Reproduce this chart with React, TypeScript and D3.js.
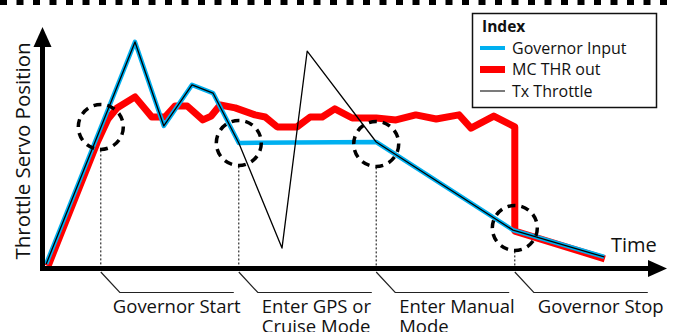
import React from "react";
import * as d3 from "d3";

const W = 676;
const H = 332;

// Time (0..100) vs servo position (0..100)
const txTime = [0.7, 15.5, 20.3, 25, 28.5, 32.8, 40, 44.2, 55.7, 78.5, 93.7];
const txValue = [1.7, 94.2, 59.2, 76.3, 72.9, 52.1, 8.3, 90.4, 52.5, 15.8, 4.6];

const govTime = [0.7, 15.5, 20.3, 25, 28.5, 32.8, 55.7, 78.5, 93.7];
const govValue = [1.7, 94.2, 59.2, 76.3, 72.9, 52.1, 52.5, 15.8, 4.6];

const mcTime = [1, 9.3, 11, 12.5, 15.5, 18.3, 20.5, 22.2, 24.2, 26.8, 28.2, 29.7, 32.2, 35.5, 37.2, 39.2, 42.5, 44.7, 46.7, 48.8, 51.7, 55.7, 59, 62.3, 65.7, 69.5, 71.5, 75.3, 78.8, 78.8, 93.8];
const mcValue = [0.8, 52.9, 62.1, 66.7, 71.3, 62.9, 62.9, 67.5, 67.5, 61.7, 63.3, 67.9, 66.7, 63.8, 62.9, 58.8, 58.8, 62.9, 62.9, 66.3, 62.5, 62.5, 61.7, 63.8, 62.1, 63.8, 58.3, 63.3, 58.8, 15.4, 3.8];

const eventTime = [9.8, 32.8, 55.7, 78.8];
const eventValue = [58.8, 52.1, 51.7, 16.7];
const eventLabels = [["Governor Start"], ["Enter GPS or", "Cruise Mode"], ["Enter Manual", "Mode"], ["Governor Stop"]];
const eventLabelDx = [12, 23, 23, 23];

const legendLabels = ["Governor Input", "MC THR out", "Tx Throttle"];

const FONT = "'Open Sans', 'Noto Sans', sans-serif";

export default function App() {
  const x = d3.scaleLinear().domain([0, 100]).range([42, 642]);
  const y = d3.scaleLinear().domain([0, 100]).range([268, 28]);

  const mk = (ts: number[], vs: number[]) =>
    d3
      .line<number>()
      .x((_, i) => x(ts[i]))
      .y((v) => y(v))
      .curve(d3.curveLinear)(vs) as string;

  const txPath = mk(txTime, txValue);
  const govPath = mk(govTime, govValue);
  const mcPath = mk(mcTime, mcValue);

  const axisY = 268.5;
  const axisX = 42.5;

  return (
    <svg width={W} height={H} style={{ position: "absolute", left: 0, top: 0, background: "#fff" }}>
      {/* top dashed border */}
      <line x1={0} x2={W} y1={2.5} y2={2.5} stroke="#000" strokeWidth={5} strokeDasharray="7 9.5" />

      {/* series */}
      <path d={mcPath} fill="none" stroke="#ff0000" strokeWidth={7} strokeLinejoin="round" />
      <path d={govPath} fill="none" stroke="#00b0f0" strokeWidth={4.5} strokeLinejoin="round" />
      <path d={txPath} fill="none" stroke="#000" strokeWidth={1.3} strokeLinejoin="round" />

      {/* events */}
      {eventTime.map((t, i) => {
        const cx = x(t);
        const cy = y(eventValue[i]);
        const r = 22.5;
        return (
          <g key={i}>
            <circle cx={cx} cy={cy} r={r} fill="none" stroke="#000" strokeWidth={3.5} strokeDasharray="8 6" />
            <line x1={cx} x2={cx} y1={cy + r + 1} y2={axisY - 2} stroke="#000" strokeWidth={1} strokeDasharray="2 2" />
            <polyline
              points={`${cx},${272} ${cx + 19},${292.5} ${cx + 133},${292.5}`}
              fill="none"
              stroke="#222"
              strokeWidth={1.2}
            />
            {eventLabels[i].map((s, j) => (
              <text key={j} x={cx + eventLabelDx[i]} y={313 + j * 20} fontFamily={FONT} fontSize={18.5} fill="#111">
                {s}
              </text>
            ))}
          </g>
        );
      })}

      {/* axes */}
      <line x1={axisX} x2={650} y1={axisY} y2={axisY} stroke="#000" strokeWidth={5} />
      <line x1={axisX} x2={axisX} y1={271} y2={45} stroke="#000" strokeWidth={5} />
      <polygon points={`648,260 667,${axisY} 648,277`} fill="#000" />
      <polygon points={`${axisX - 9},47 ${axisX},27 ${axisX + 9},47`} fill="#000" />

      <text x={611} y={252} fontFamily={FONT} fontSize={20} fill="#111">
        Time
      </text>
      <text
        transform={`translate(30,151) rotate(-90)`}
        textAnchor="middle"
        fontFamily={FONT}
        fontSize={20.5}
        fill="#111"
      >
        Throttle Servo Position
      </text>

      {/* legend */}
      <rect x={472.5} y={13.5} width={184} height={94} fill="#fff" stroke="#111" strokeWidth={1.5} />
      <text x={482} y={32} fontFamily={FONT} fontSize={15.5} fontWeight="bold" fill="#111">
        Index
      </text>
      <line x1={480} x2={505} y1={48} y2={48} stroke="#00b0f0" strokeWidth={4} />
      <line x1={480} x2={505} y1={69.5} y2={69.5} stroke="#ff0000" strokeWidth={7} />
      <line x1={480} x2={505} y1={91} y2={91} stroke="#333" strokeWidth={1.3} />
      {legendLabels.map((s, i) => (
        <text key={i} x={512} y={53.5 + i * 21.7} fontFamily={FONT} fontSize={16} fill="#111">
          {s}
        </text>
      ))}
    </svg>
  );
}
